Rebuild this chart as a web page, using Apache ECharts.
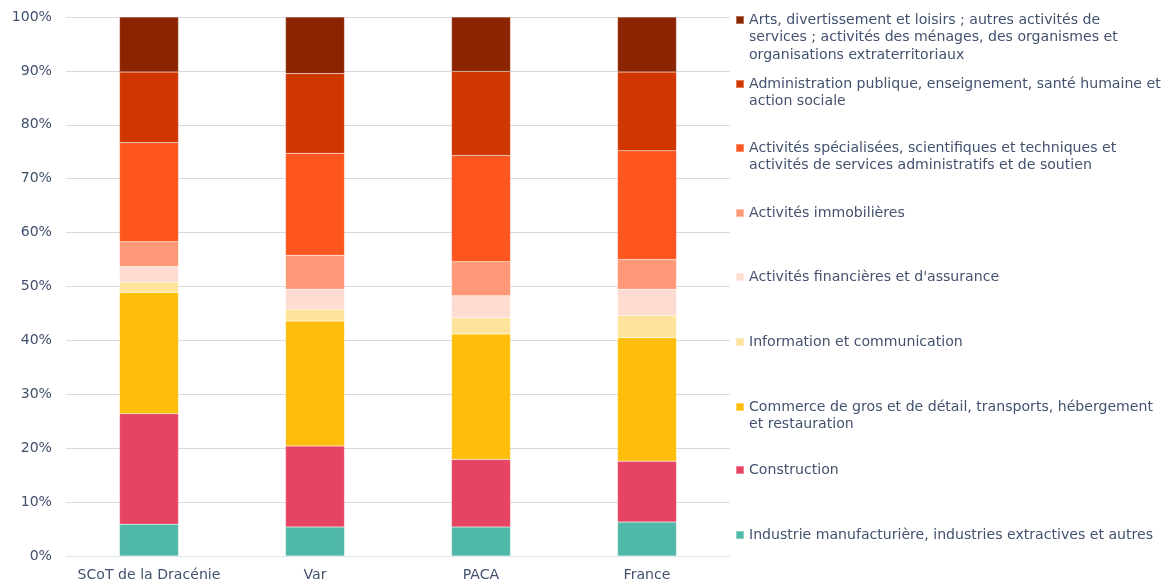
<!DOCTYPE html>
<html>
<head>
<meta charset="utf-8">
<script src="https://cdn.jsdelivr.net/npm/echarts@6/dist/echarts.min.js"></script>
<style>
  html, body { margin: 0; padding: 0; background: #ffffff; }
  #chart { width: 1168px; height: 587px; }
</style>
</head>
<body>
<div id="chart"></div>
<script>
// Territories compared
const categories = ['SCoT de la Dracénie', 'Var', 'PACA', 'France'];

// Share of establishments by sector (%), per territory, bottom of the stack first
const industrie    = [5.9, 5.4, 5.4, 6.3];
const construction = [20.5, 15.0, 12.5, 11.3];
const commerce     = [22.5, 23.2, 23.3, 22.9];
const information  = [1.9, 2.2, 3.0, 4.1];
const finance      = [2.9, 3.7, 4.1, 4.9];
const immobilier   = [4.6, 6.3, 6.3, 5.5];
const specialisees = [18.4, 18.9, 19.7, 20.2];
const administration = [13.1, 14.8, 15.6, 14.6];
const arts         = [10.2, 10.5, 10.1, 10.2];

const sectorNames = [
  'Industrie manufacturière, industries extractives et autres',
  'Construction',
  'Commerce de gros et de détail, transports, hébergement et restauration',
  'Information et communication',
  'Activités financières et d\'assurance',
  'Activités immobilières',
  'Activités spécialisées, scientifiques et techniques et activités de services administratifs et de soutien',
  'Administration publique, enseignement, santé humaine et action sociale',
  'Arts, divertissement et loisirs ; autres activités de services ; activités des ménages, des organismes et organisations extraterritoriaux'
];

// Legend text, wrapped the way it is displayed
const sectorLabels = [
  ['Industrie manufacturière, industries extractives et autres'],
  ['Construction'],
  ['Commerce de gros et de détail, transports, hébergement', 'et restauration'],
  ['Information et communication'],
  ['Activités financières et d\'assurance'],
  ['Activités immobilières'],
  ['Activités spécialisées, scientifiques et techniques et', 'activités de services administratifs et de soutien'],
  ['Administration publique, enseignement, santé humaine et', 'action sociale'],
  ['Arts, divertissement et loisirs ; autres activités de', 'services ; activités des ménages, des organismes et', 'organisations extraterritoriaux']
];

const sectorValues = [industrie, construction, commerce, information, finance,
  immobilier, specialisees, administration, arts];

const sectorColors = ['#50b8a8', '#e64462', '#ffbe0b', '#ffe39a', '#fedcd2',
  '#ff9877', '#ff561f', '#d03600', '#8b2400'];

const FONT = "'DejaVu Sans', Verdana, sans-serif";
const FONT_SIZE = 14.1;
const TEXT_COLOR = '#42516e';
const LINE_H = 17.5;

// Legend rows: first-line centre of each entry, top entry first
const legendRowY = [535, 470, 407, 342, 277, 213, 148, 84, 20];

const series = sectorNames.map((name, i) => ({
  name: name,
  type: 'bar',
  stack: 'total',
  barWidth: 59,
  itemStyle: { color: sectorColors[i], borderColor: 'rgba(255,255,255,0.35)', borderWidth: 0.5 },
  emphasis: { disabled: true },
  data: sectorValues[i]
}));

// One legend block per sector so every entry keeps its own row.
// Leading blank lines keep the icon level with the first line of wrapped text.
const legends = sectorNames.map((name, i) => {
  const n = sectorLabels[i].length;
  const text = '\n'.repeat(n - 1) + sectorLabels[i].join('\n');
  return {
    data: [name],
    orient: 'vertical',
    left: 735,
    top: legendRowY[i] - (2 * n - 1) * LINE_H / 2,
    padding: 0,
    itemWidth: 8,
    itemHeight: 8,
    icon: 'rect',
    selectedMode: false,
    formatter: () => text,
    textStyle: {
      fontFamily: FONT,
      fontSize: FONT_SIZE,
      color: TEXT_COLOR,
      lineHeight: LINE_H
    }
  };
});

const chart = echarts.init(document.getElementById('chart'), null, { renderer: 'canvas' });
chart.setOption({
  animation: false,
  backgroundColor: '#ffffff',
  grid: { left: 66, right: 438, top: 17, bottom: 31, containLabel: false },
  legend: legends,
  xAxis: {
    type: 'category',
    data: categories,
    axisLine: { show: true, lineStyle: { color: '#dde5ef', width: 1 } },
    axisTick: { show: false },
    axisLabel: { interval: 0, fontFamily: FONT, fontSize: FONT_SIZE, color: TEXT_COLOR, margin: 12 }
  },
  yAxis: {
    type: 'value',
    min: 0,
    max: 100,
    interval: 10,
    axisLine: { show: false },
    axisTick: { show: false },
    splitLine: { lineStyle: { color: '#d9d9d9', width: 1 } },
    axisLabel: {
      fontFamily: FONT, fontSize: FONT_SIZE, color: TEXT_COLOR, margin: 14,
      formatter: v => v + '%'
    }
  },
  series: series
});
</script>
</body>
</html>
